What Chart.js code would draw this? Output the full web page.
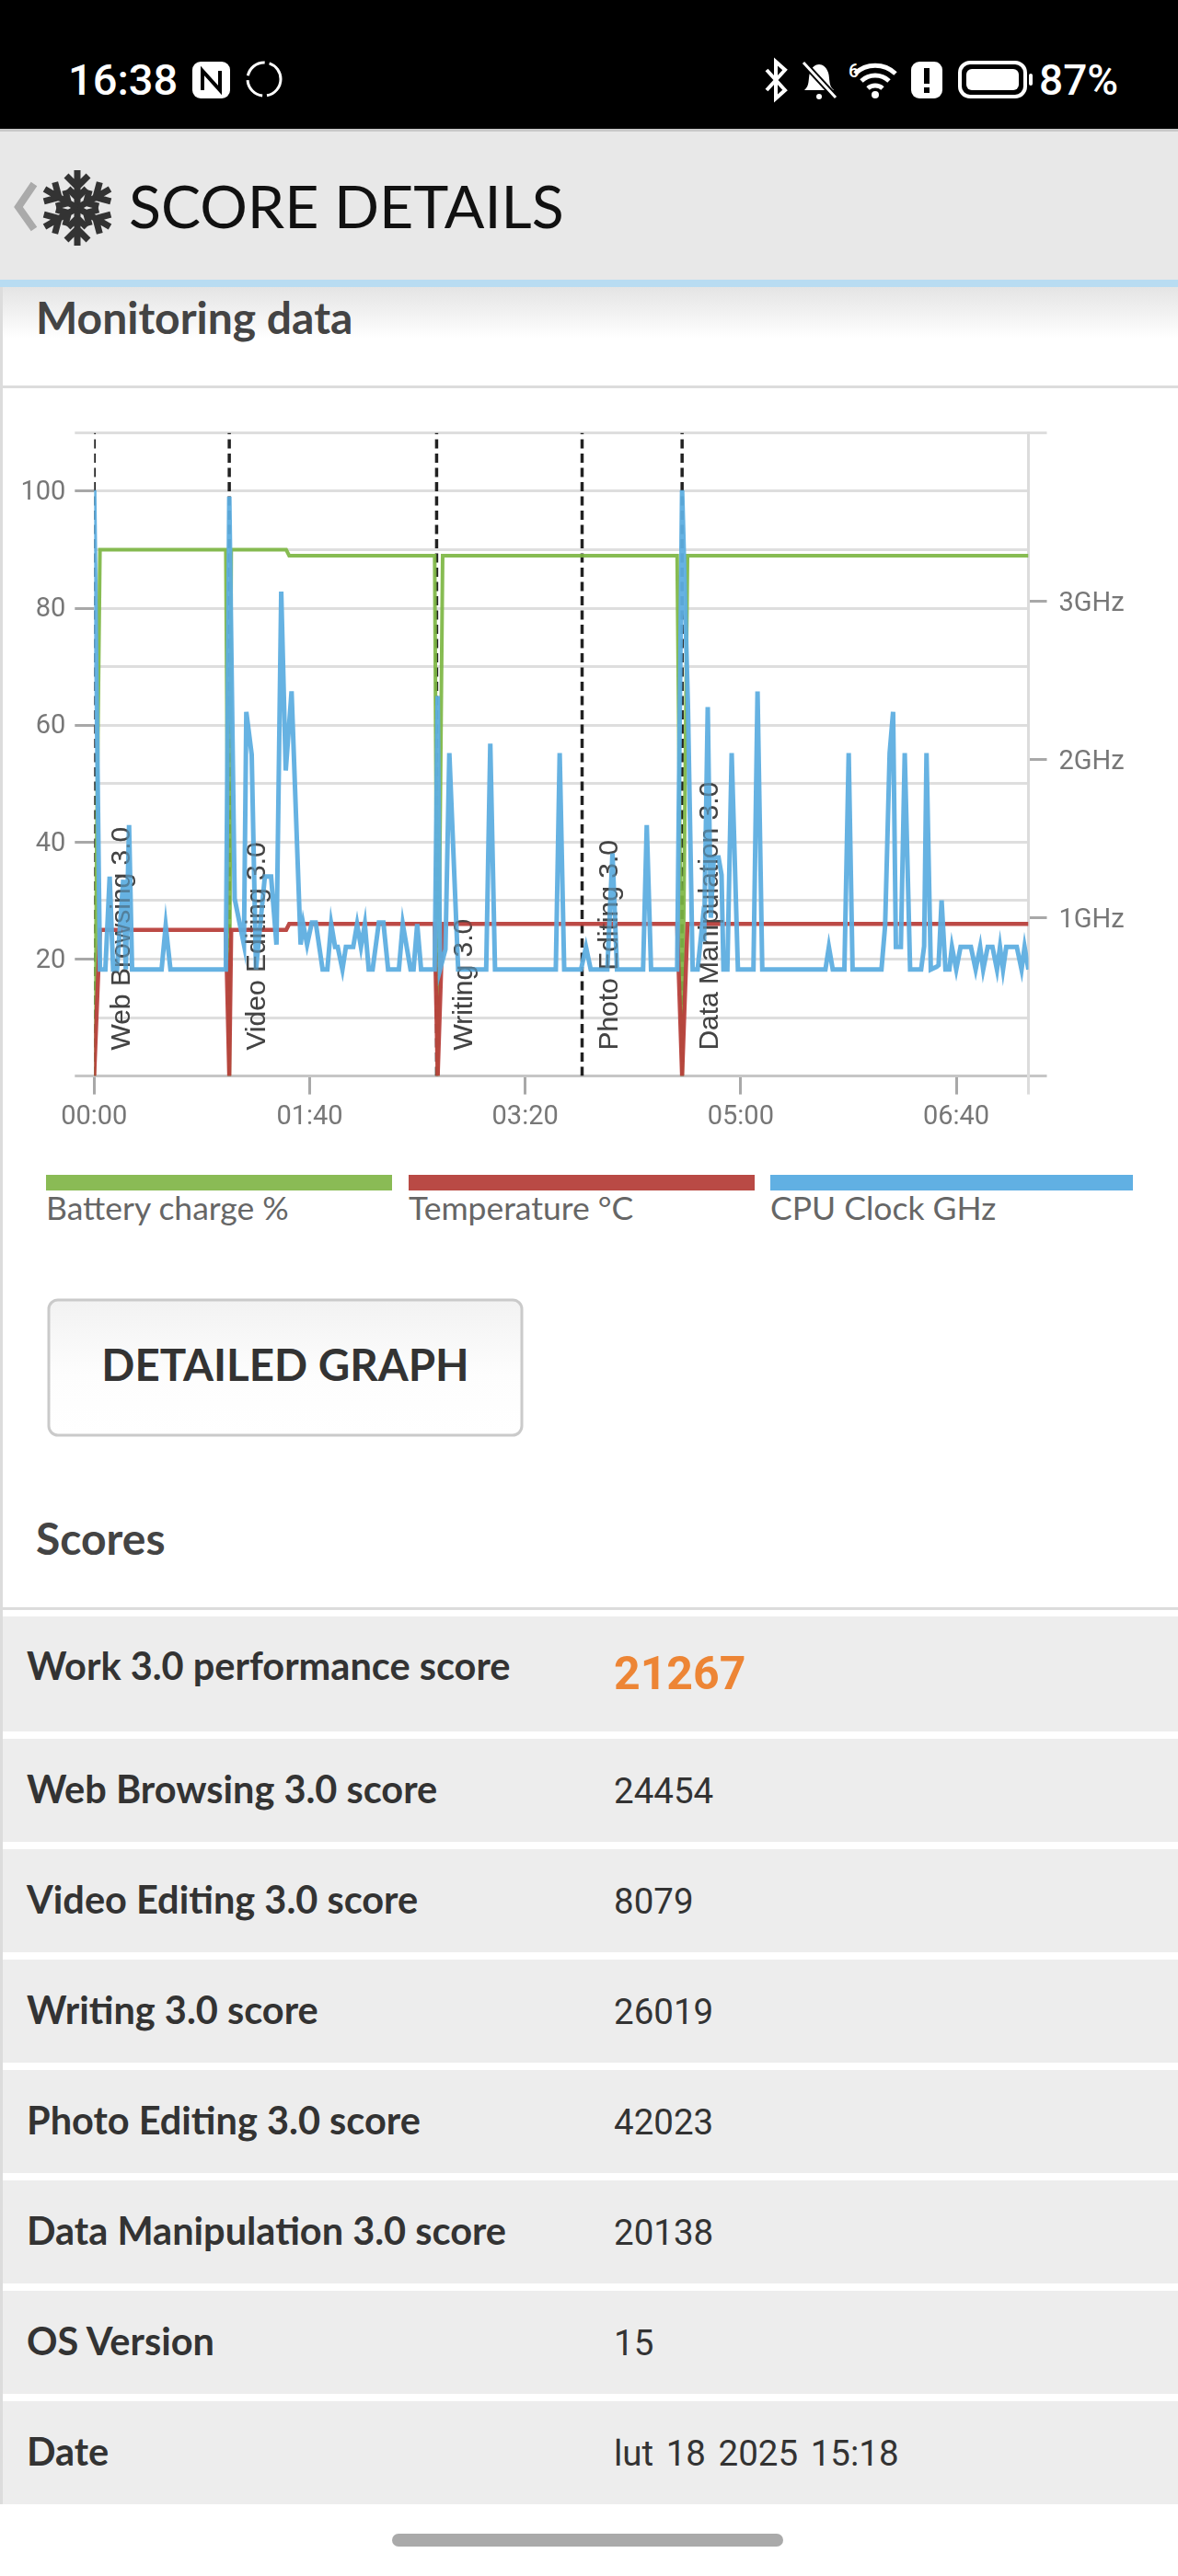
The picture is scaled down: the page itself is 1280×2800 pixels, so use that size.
<!DOCTYPE html>
<html>
<head>
<meta charset="utf-8">
<title>Score details</title>
<script src="https://cdn.jsdelivr.net/npm/chart.js@4/dist/chart.umd.min.js"></script>
<style>
  html, body { margin: 0; padding: 0; background: #fff; }
  #page { position: relative; width: 1280px; height: 2800px; overflow: hidden; }
  #ui { position: absolute; left: 0; top: 0; }
  #myChart { position: absolute; left: 0; top: 440px; }
  .lato { font-family: Lato, sans-serif; }
  .rob { font-family: Roboto, sans-serif; }
</style>
</head>
<body>
<div id="page">
<svg id="ui" width="1280" height="2800" viewBox="0 0 1280 2800">
  <defs>
    <linearGradient id="fade" x1="0" y1="0" x2="0" y2="1">
      <stop offset="0" stop-color="#e4e4e4"/><stop offset="1" stop-color="#ffffff"/>
    </linearGradient>
    <linearGradient id="btn" x1="0" y1="0" x2="0" y2="1">
      <stop offset="0" stop-color="#f2f2f2"/><stop offset="0.55" stop-color="#fdfdfd"/><stop offset="1" stop-color="#ffffff"/>
    </linearGradient>
  </defs>

  <!-- status bar -->
  <rect x="0" y="0" width="1280" height="140" fill="#000"/>
  <text class="rob" x="74" y="103" font-size="47" font-weight="500" fill="#fff">16:38</text>
  <rect x="209" y="67" width="41" height="40" rx="9" fill="#fff"/>
  <path d="M220 98V77l19 21V77" fill="none" stroke="#000" stroke-width="4"/>
  <circle cx="287" cy="86" r="18" fill="none" stroke="#fff" stroke-width="3" stroke-dasharray="25 5"/>
  <path d="M833 76l20 22-10 9V67l10 9-20 22" fill="none" stroke="#fff" stroke-width="4"/>
  <path d="M874 98c6-5 4-12 6-19 2-6 6-9 10-9s8 3 10 9c2 7 0 14 6 19z" fill="#fff"/>
  <circle cx="890" cy="105" r="3" fill="#fff"/>
  <path d="M873 68l35 38" stroke="#000" stroke-width="7"/>
  <path d="M873 68l35 38" stroke="#fff" stroke-width="3"/>
  <path d="M929 80a32 32 0 0 1 44 0M936 88a22 22 0 0 1 30 0M943 96a12 12 0 0 1 16 0" fill="none" stroke="#fff" stroke-width="5"/>
  <circle cx="951" cy="103" r="4" fill="#fff"/>
  <text class="rob" x="922" y="84" font-size="20" font-weight="500" fill="#fff">6</text>
  <rect x="990" y="67" width="34" height="40" rx="9" fill="#fff"/>
  <rect x="1004" y="74" width="6" height="17" fill="#000"/>
  <rect x="1004" y="95" width="6" height="6" fill="#000"/>
  <rect x="1043" y="68" width="71" height="37" rx="11" fill="none" stroke="#fff" stroke-width="4"/>
  <rect x="1050" y="75" width="57" height="23" rx="6" fill="#fff"/>
  <rect x="1118" y="80" width="4" height="13" rx="2" fill="#fff"/>
  <text class="rob" x="1129" y="103" font-size="46" font-weight="500" fill="#fff">87%</text>

  <!-- header -->
  <rect x="0" y="140" width="1280" height="3" fill="#c8c8c8"/>
  <rect x="0" y="143" width="1280" height="162" fill="#e8e8e8"/>
  <rect x="0" y="304" width="1280" height="8" fill="#b8dcf2"/>
  <rect x="0" y="312" width="1280" height="56" fill="url(#fade)"/>
  <path d="M37 200L20 225L37 249" fill="none" stroke="#aaa" stroke-width="8"/>
  <g id="flake" fill="none" stroke="#333" stroke-width="7"></g>
  <text class="lato" x="140" y="248" font-size="64.5" fill="#111">SCORE DETAILS</text>

  <!-- card -->
  <rect x="0" y="312" width="3" height="2410" fill="#dcdcdc"/>
  <text class="lato" x="39" y="363" font-size="48" font-weight="700" fill="#444">Monitoring data</text>
  <rect x="3" y="419" width="1277" height="3" fill="#dcdcdc"/>

  <g id="legendBars"></g>

  <rect x="53" y="1413" width="514" height="147" rx="10" fill="url(#btn)" stroke="#cacaca" stroke-width="3"/>
  <text class="lato" x="310" y="1501" font-size="47.5" font-weight="700" fill="#333" text-anchor="middle">DETAILED GRAPH</text>

  <text class="lato" x="39" y="1690" font-size="48" font-weight="700" fill="#444">Scores</text>
  <rect x="3" y="1747" width="1277" height="3" fill="#dcdcdc"/>

  <g id="rows"></g>
  <rect x="426" y="2754" width="425" height="14" rx="7" fill="#aaaaaa"/>
</svg>
<canvas id="myChart" width="1280" height="800"></canvas>
</div>

<script>
// left axis 0-110, right axis GHz, x axis in the app's own time units
const xTickValues = [0, 100, 200, 300, 400]
const xTickLabels = ['00:00', '01:40', '03:20', '05:00', '06:40']
const xEnd = 433.5
const leftTickLabels = [20, 40, 60, 80, 100]
const leftMax = 110
const ghzTicks = [1, 2, 3]
const ghzMax = 4.063

const testNames = ['Web Browsing 3.0', 'Video Editing 3.0', 'Writing 3.0', 'Photo Editing 3.0', 'Data Manipulation 3.0']
const testStarts = [0, 62.7, 158.9, 226.4, 272.8]

const batteryTimes = [0, 2.7, 61.1, 62.7, 63.6, 89.1, 90.5, 158, 159.4, 161.7, 270.5, 272.8, 275.3, 433.5]
const batteryValues = [0, 90, 90, 0, 90, 90, 89, 89, 0, 89, 89, 0, 89, 89]

const tempTimes = [0, 2.7, 61.1, 62.7, 63.6, 89.1, 90.5, 158, 159.4, 161.7, 270.5, 272.8, 275.3, 433.5]
const tempValues = [0, 25, 25, 0, 25, 25, 26, 26, 0, 26, 26, 0, 26, 26]

const cpuTimes = [0, 2.7, 5.2, 7.2, 8.8, 10.6, 13.5, 14.7, 16.2, 17.6, 31.3, 33.2, 35.4, 61.1, 62.7, 65.2, 69.5, 70.6, 73.1, 75.1,
  79.2, 82.1, 84.6, 86.8, 88.9, 91.6, 95.8, 97, 98.8, 101, 102.8, 106, 108.2, 110, 111.8, 113, 115.2, 116.8, 120.2, 122,
  123.8, 125.6, 127.4, 129.2, 132.1, 134.2, 136.4, 141.4, 143.2, 146.8, 148.2, 149.9, 151.7, 158, 159.4, 160.5, 163, 164.8, 168.9, 181.9,
  183.8, 186, 214.2, 216, 218.1, 225.9, 228.2, 230.4, 238.1, 240.5, 242.6, 254.7, 256.4, 258.4, 270.5, 272.8, 275.5, 277.7, 280, 282.1,
  283, 284.7, 286.1, 287.5, 289.7, 291.1, 292, 293.8, 295.8, 298.7, 305.9, 307.8, 310, 339.3, 340.9, 342.7, 348.1, 350.1, 351.9, 365.3,
  367, 369.1, 370.7, 372, 374.3, 376.1, 378.6, 383.7, 385.1, 386.2, 388.2, 390.9, 391.8, 393.2, 395, 396.8, 398, 400, 402, 406.8,
  409, 411.1, 412.5, 414.6, 416.8, 418.9, 420.3, 421.7, 423.2, 428.1, 430.3, 431.7, 433.5]
const cpuClock = [3.7, .673, .673, 1.26, .673, .673, 1.24, .673, 1.585, .673, .673, .95, .673, .673, 3.66, 1.12, .83, 2.3, 2.03, .673,
  1.26, 1.26, .83, 3.06, 1.93, 2.43, .83, .96, .83, .97, .97, .673, .673, .96, .815, .815, .673, .815, .815, .96,
  .815, .96, .673, .673, .97, .97, .673, .673, .96, .673, .673, .96, .673, .673, 2.4, .673, .8, 2.04, .673, .673,
  2.1, .673, .673, 2.04, .673, .673, .815, .673, .673, 1.407, .673, .673, 1.585, .673, .673, 3.7, 2.34, .673, .673, .95,
  .85, 2.33, 1, 1.38, 1.38, 1.27, .673, .673, 2.04, .673, .673, 2.43, .673, .673, .815, .673, .673, 2.04, .673, .673,
  .95, 2.04, 2.3, .815, .815, 2.04, .673, .673, .82, 2.04, .673, .69, .7, 1.11, .673, .673, .815, .673, .815, .815,
  .673, .815, .673, .815, .815, .673, .815, .673, .815, .815, .673, .815, .673]

const legendNames = ['Battery charge %', 'Temperature °C', 'CPU Clock GHz']
const legendColors = ['#8abb55', '#b94a45', '#61b0e3']

const scoreLabels = ['Work 3.0 performance score', 'Web Browsing 3.0 score', 'Video Editing 3.0 score', 'Writing 3.0 score',
  'Photo Editing 3.0 score', 'Data Manipulation 3.0 score', 'OS Version', 'Date']
const scoreValues = ['21267', '24454', '8079', '26019', '42023', '20138', '15', 'lut 18 2025 15:18']

const NS = 'http://www.w3.org/2000/svg'
const addSvg = (parent, tag, attrs, text) => {
  const el = document.createElementNS(NS, tag)
  for (const a in attrs) el.setAttribute(a, attrs[a])
  if (text) el.textContent = text
  parent.appendChild(el)
  return el
}

// snowflake in the header
const flake = document.getElementById('flake')
for (let i = 0; i < 6; i++) {
  const g = addSvg(flake, 'g', {transform: `translate(84 226) rotate(${i * 60})`})
  addSvg(g, 'path', {d: 'M0 0V-41M-12 -35L0 -23L12 -35M-10 -21L0 -11L10 -21'})
}

// legend strips
const legendX = [50, 444, 837]
const legendW = [376, 376, 394]
const legendG = document.getElementById('legendBars')
legendNames.forEach((name, i) => {
  addSvg(legendG, 'rect', {x: legendX[i], y: 1277, width: legendW[i], height: 17, fill: legendColors[i]})
  addSvg(legendG, 'text', {x: legendX[i], y: 1326, 'font-size': 35.5, fill: '#666', class: 'lato'}, name)
})

// score rows
const rows = document.getElementById('rows')
let rowTop = 1757
scoreLabels.forEach((label, i) => {
  const h = i === 0 ? 125 : 112
  addSvg(rows, 'rect', {x: 3, y: rowTop, width: 1277, height: h, fill: '#ededed'})
  addSvg(rows, 'text', {x: 29, y: i === 0 ? rowTop + 69 : rowTop + 70, 'font-size': 41.5, 'font-weight': 700, fill: '#333', class: 'lato'}, label)
  if (i === 0) addSvg(rows, 'text', {x: 667, y: rowTop + 79, 'font-size': 50, 'font-weight': 700, fill: '#ed8535', class: 'rob'}, scoreValues[i])
  else addSvg(rows, 'text', {x: 667, y: rowTop + 70, 'font-size': 38.5, 'word-spacing': 4, fill: '#333', class: 'rob'}, scoreValues[i])
  rowTop += h + 8
})

// chart
const toPoints = (xs, ys) => xs.map((x, i) => ({x: x, y: ys[i]}))

const lineSet = (points, color, width, axis, order) => ({
  data: points, borderColor: color, borderWidth: width, yAxisID: axis, order: order,
  pointRadius: 0, tension: 0, fill: false, borderJoinStyle: 'miter'
})

const datasets = [
  lineSet(toPoints(cpuTimes, cpuClock), 'rgba(94,174,224,0.95)', 5, 'y1', 1),
  lineSet(toPoints(tempTimes, tempValues), 'rgba(184,64,60,0.95)', 4.5, 'y', 2),
  lineSet(toPoints(batteryTimes, batteryValues), 'rgba(125,182,67,0.92)', 4, 'y', 3)
]
testStarts.forEach(t => {
  const d = lineSet([{x: t, y: 0}, {x: t, y: leftMax}], '#222', 3.5, 'y', 4)
  d.borderDash = [10, 5.5]
  datasets.push(d)
})

const drawNames = (chart, alpha) => {
  const c = chart.ctx
  const bottom = chart.scales.y.bottom - 28
  c.save()
  c.globalAlpha = alpha
  c.font = '30px "Liberation Sans", Arial, sans-serif'
  c.fillStyle = '#444'
  c.textBaseline = 'alphabetic'
  testNames.forEach((name, i) => {
    c.save()
    c.translate(chart.scales.x.getPixelForValue(testStarts[i]) + 39, bottom)
    c.rotate(-Math.PI / 2)
    c.fillText(name, 0, 0)
    c.restore()
  })
  c.restore()
}

// rotated test names, the lines partly show over them
const testNamePlugin = {
  id: 'testNames',
  beforeDatasetsDraw(chart) { drawNames(chart, 1) },
  afterDatasetsDraw(chart) { drawNames(chart, 0.4) }
}

const tickFont = {family: 'Roboto', size: 29}

new Chart(document.getElementById('myChart'), {
  type: 'line',
  data: {datasets},
  plugins: [testNamePlugin],
  options: {
    responsive: false,
    animation: false,
    layout: {padding: {top: 30}},
    plugins: {legend: {display: false}, tooltip: {enabled: false}},
    scales: {
      x: {
        type: 'linear', min: 0, max: xEnd,
        afterFit(s) { s.height = 70.4 },
        afterBuildTicks(s) { s.ticks = xTickValues.concat([xEnd]).map(v => ({value: v})) },
        border: {display: false},
        grid: {
          drawOnChartArea: false, tickLength: 20, lineWidth: 3,
          tickColor: c => c.tick && c.tick.value === xEnd ? '#dcdcdc' : '#a8a8a8'
        },
        ticks: {
          color: '#777', font: tickFont, maxRotation: 0, autoSkip: false, padding: 8,
          callback: v => { const i = xTickValues.indexOf(v); return i < 0 ? '' : xTickLabels[i] }
        }
      },
      y: {
        min: 0, max: leftMax,
        afterFit(s) { s.width = 102.3 },
        afterBuildTicks(s) {
          const t = []
          for (let v = 0; v <= leftMax; v += 10) t.push({value: v})
          s.ticks = t
        },
        border: {display: false},
        grid: {
          lineWidth: 3, tickLength: 21,
          color: c => c.tick.value === 0 ? '#c6c6c6' : '#dedede',
          tickColor: c => {
            if (c.tick.value === 0) return '#c6c6c6'
            if (c.tick.value === leftMax) return '#dedede'
            return leftTickLabels.includes(c.tick.value) ? '#a8a8a8' : 'transparent'
          }
        },
        ticks: {
          color: '#777', font: tickFont, padding: 10, labelOffset: 2, autoSkip: false,
          callback: v => leftTickLabels.includes(v) ? String(v) : ''
        }
      },
      y1: {
        position: 'right', min: 0, max: ghzMax,
        afterFit(s) { s.width = 162.5 },
        afterBuildTicks(s) { s.ticks = [0].concat(ghzTicks, [ghzMax]).map(v => ({value: v})) },
        border: {display: true, color: '#dcdcdc', width: 3},
        grid: {
          drawOnChartArea: false, tickLength: 20, lineWidth: 3,
          tickColor: c => {
            if (c.tick.value === 0) return '#c6c6c6'
            return ghzTicks.includes(c.tick.value) ? '#a8a8a8' : '#dedede'
          }
        },
        ticks: {
          color: '#777', font: tickFont, padding: 13, labelOffset: 3, autoSkip: false,
          callback: v => ghzTicks.includes(v) ? v + 'GHz' : ''
        }
      }
    }
  }
})
</script>
</body>
</html>
